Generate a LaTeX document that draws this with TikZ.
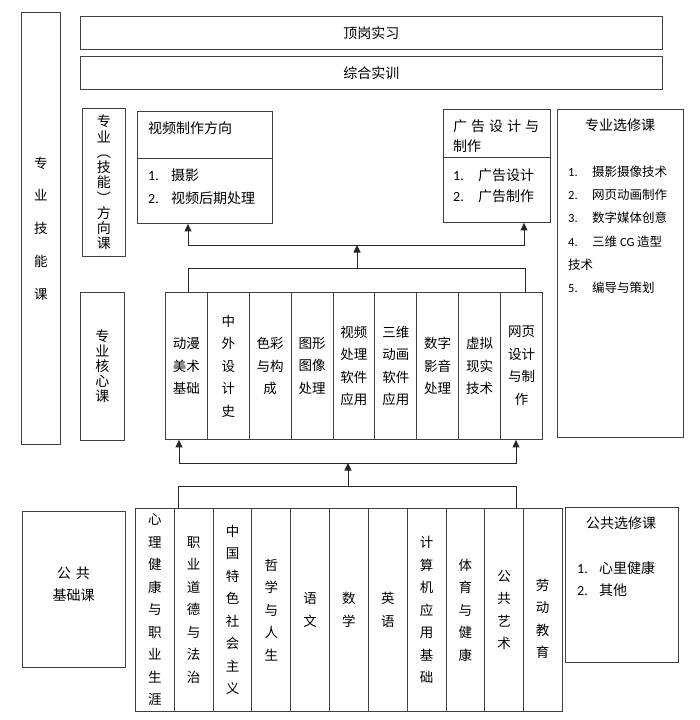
\documentclass[tikz,border=0pt]{standalone}
\usepackage{fontspec}
\setmainfont{Noto Sans CJK SC}
\newfontfamily\lat{Carlito}
\usetikzlibrary{arrows.meta}
\newcommand\lsitem[3]{\makebox[#1][l]{\lat #2}#3}
\begin{document}
\begin{tikzpicture}[x=1pt,y=-1pt,
  box/.style={draw=black!75, line width=0.9pt, inner sep=0pt, anchor=north west},
  sz/.style 2 args={minimum width=#1, minimum height=#2},
  cell/.style={box, align=center, font=\fontsize{13.5}{22.5}\selectfont},
  vstack/.style={box, align=center},
  txt/.style={inner sep=0pt, font=\fontsize{14}{20}\selectfont},
  small/.style={inner sep=0pt, anchor=west, font=\fontsize{12.5}{20}\selectfont},
  rule/.style={draw=black!75, line width=0.9pt},
  link/.style={draw=black!85, line width=0.9pt},
  >={Triangle[width=7pt,length=7.5pt]}]
\useasboundingbox (0,0) rectangle (700,720);

% left column labels
\node[vstack, sz={39pt}{432pt}, font=\fontsize{13.5}{32.75}\selectfont] (skill) at (21,12) {专\\业\\技\\能\\课};
\node[vstack, sz={43pt}{148pt}, font=\fontsize{14}{15.25}\selectfont] (dir) at (82,108) {专\\业\\︵\\技\\能\\︶\\方\\向\\课};
\node[vstack, sz={44pt}{148pt}, font=\fontsize{14}{15}\selectfont] (hx) at (80,292) {专\\业\\核\\心\\课};

% top bars
\node[box, sz={582pt}{33pt}, font=\fontsize{14}{16}\selectfont] (ding) at (80,16) {顶岗实习};
\node[box, sz={582pt}{33pt}, font=\fontsize{14}{16}\selectfont] (zong) at (80,56) {综合实训};

% video direction
\node[box, sz={135pt}{112pt}] (vid) at (137,111) {};
\coordinate (vdiv) at (0,158);
\draw[rule] (vid.west |- vdiv) -- (vid.east |- vdiv);
\node[txt, anchor=west] (vidt) at (148,128) {视频制作方向};
\node[txt, anchor=west] (vid1) at (148,175) {\lsitem{23pt}{1.}{摄影}};
\node[txt, anchor=west] (vid2) at (148,198) {\lsitem{23pt}{2.}{视频后期处理}};

% advertising direction
\node[box, sz={107pt}{113pt}] (ad) at (443,109) {};
\coordinate (adiv) at (0,157);
\draw[rule] (ad.west |- adiv) -- (ad.east |- adiv);
\node[txt, anchor=west] (adt1) at (453,126) {广\hspace{4pt}告\hspace{4pt}设\hspace{4pt}计\hspace{4pt}与};
\node[txt, anchor=west] (adt2) at (453,146) {制作};
\node[txt, anchor=west] (ad1) at (453,175) {\lsitem{25pt}{1.}{广告设计}};
\node[txt, anchor=west] (ad2) at (453,196) {\lsitem{25pt}{2.}{广告制作}};

% professional electives
\node[box, sz={126pt}{328pt}] (zx) at (557,109) {};
\node[txt] (zxt) at (620,125) {专业选修课};
\node[small] (zx1) at (568,172) {\lsitem{24pt}{1.}{摄影摄像技术}};
\node[small] (zx2) at (568,195) {\lsitem{24pt}{2.}{网页动画制作}};
\node[small] (zx3) at (568,218) {\lsitem{24pt}{3.}{数字媒体创意}};
\node[small] (zx4) at (568,242) {\lsitem{24pt}{4.}{三维 {\lat CG} 造型}};
\node[small] (zx4b) at (568,265) {技术};
\node[small] (zx5) at (568,288) {\lsitem{24pt}{5.}{编导与策划}};

% core courses
\foreach \t [count=\i] in {{动漫\\美术\\基础},{中\\外\\设\\计\\史},{色彩\\与构\\成},{图形\\图像\\处理},{视频\\处理\\软件\\应用},{三维\\动画\\软件\\应用},{数字\\影音\\处理},{虚拟\\现实\\技术},{网页\\设计\\与制\\作}}
  \node[cell, sz={41.89pt}{147pt}] (k\i) at ({165+41.89*(\i-1)},292) {\t};

% public basic courses
\node[box, sz={103pt}{156pt}] (gj) at (22,511) {};
\node[txt, align=center, font=\fontsize{14}{22}\selectfont] (gjt) at (73.5,584) {公\hspace{5pt}共\\基础课};
\foreach \t [count=\i] in {{心\\理\\健\\康\\与\\职\\业\\生\\涯},{职\\业\\道\\德\\与\\法\\治},{中\\国\\特\\色\\社\\会\\主\\义},{哲\\学\\与\\人\\生},{语\\文},{数\\学},{英\\语},{计\\算\\机\\应\\用\\基\\础},{体\\育\\与\\健\\康},{公\\共\\艺\\术}}
  \node[cell, sz={38.82pt}{203pt}] (p\i) at ({135+38.82*(\i-1)},508) {\t};
\node[cell, sz={38.82pt}{203pt}] (p11) at (523.2,508) {};
\node[inner sep=0pt, align=center, font=\fontsize{13.5}{22.5}\selectfont] (p11t) at (542.6,619) {劳\\动\\教\\育};

% public electives
\node[box, sz={113pt}{155pt}] (gx) at (565,507) {};
\node[txt] (gxt) at (621,523) {公共选修课};
\node[txt, anchor=west] (gx1) at (577,568) {\lsitem{22pt}{1.}{心里健康}};
\node[txt, anchor=west] (gx2) at (577,590) {\lsitem{22pt}{2.}{其他}};

% connectors: core -> directions
\coordinate (ua) at (188,268);
\coordinate (ub) at (525,268);
\coordinate (ma) at (357,268);
\coordinate (mb) at (357,245);
\coordinate (ta) at (188,245);
\coordinate (tb) at (524,245);
\draw[link] (k1.north -| ua) -- (ua) -- (ub) -- (k9.north -| ub);
\draw[link,->] (ma) -- (mb);
\draw[link,<->] (vid.south -| ta) -- (ta) -- (tb) -- (ad.south -| tb);

% connectors: public -> core
\coordinate (la) at (178,486);
\coordinate (lb) at (516,486);
\coordinate (lm) at (348,486);
\coordinate (ln) at (348,463);
\coordinate (ca) at (179,463);
\coordinate (cb) at (516,463);
\draw[link] (p2.north -| la) -- (la) -- (lb) -- (p10.north -| lb);
\draw[link,->] (lm) -- (ln);
\draw[link,<->] (k1.south -| ca) -- (ca) -- (cb) -- (k9.south -| cb);
\end{tikzpicture}
\end{document}
